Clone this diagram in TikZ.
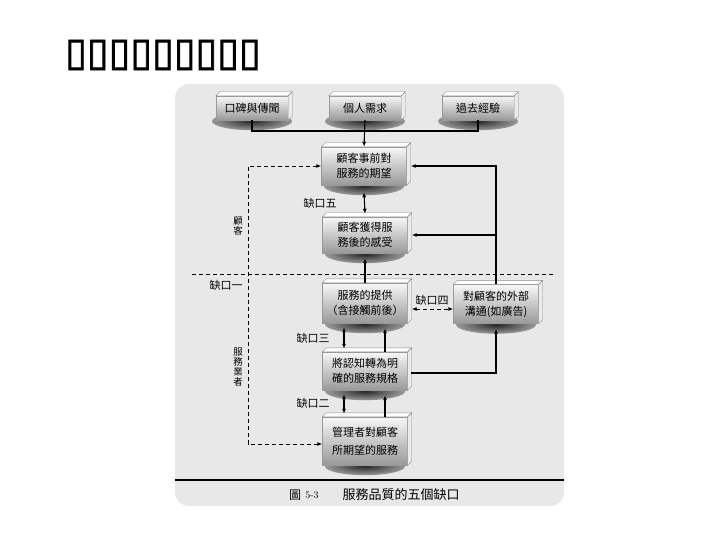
\documentclass[tikz,border=0pt]{standalone}
\usepackage{fontspec}
\newfontfamily\cjk{Noto Sans CJK TC}
\newfontface\dvb{DejaVu Sans}[RawFeature={embolden=2}]
\usetikzlibrary{arrows.meta}
\definecolor{panel}{gray}{0.91}
\definecolor{shadowc}{gray}{0.15}
\definecolor{shadowm}{gray}{0.55}
\pgfdeclareradialshading{boxshadow}{\pgfpoint{0bp}{0bp}}{color(0bp)=(shadowc); color(22bp)=(shadowm); color(50bp)=(panel)}
\pgfdeclarelayer{bg}
\pgfsetlayers{bg,main}
\newcommand\bevelbox[1]{%
  \fill[white,draw=black!45,line width=0.4pt] (#1.north west) -- ++(4,-4) -- ([shift={(4pt,4pt)}]#1.north east) -- (#1.north east) -- cycle;
  \fill[black!8,draw=black!45,line width=0.4pt] (#1.north east) -- ++(4,-4) -- ([shift={(4pt,4pt)}]#1.south east) -- (#1.south east) -- cycle;
  \begin{pgfonlayer}{bg}
  \shade[shading=boxshadow] ([yshift=-1pt]#1.south) ellipse [x radius=40pt, y radius=9pt];
  \end{pgfonlayer}}
\begin{document}
\begin{tikzpicture}[x=1pt,y=-1pt,
  sbox/.style={rectangle, draw=black!40, line width=0.4pt, top color=black!3, bottom color=black!40,
    minimum width=85pt, inner sep=1pt, font=\cjk\fontsize{11}{15}\selectfont, align=center},
  lbl/.style={font=\cjk\fontsize{11}{13}\selectfont, inner sep=0pt},
  vlbl/.style={font=\cjk\fontsize{9.5}{10}\selectfont, inner sep=0pt, align=center},
  arr/.style={line width=1.1pt, -{Latex[length=5pt,width=4pt]}},
  darr/.style={line width=1.1pt, {Latex[length=5pt,width=4pt]}-{Latex[length=5pt,width=4pt]}},
  dline/.style={line width=0.9pt, dash pattern=on 4pt off 3pt},
]
\useasboundingbox (0,0) rectangle (720,540);
\begin{pgfonlayer}{bg}
\fill[panel, rounded corners=14pt] (175,84) rectangle (564,506);
\end{pgfonlayer}

% title
\node[font=\dvb\fontsize{39.5}{40}\selectfont, anchor=west, inner sep=0pt] (title) at (65,55) {▯▯▯▯▯▯▯▯▯};

% boxes
\node[sbox, minimum width=72pt, minimum height=24pt] (t1) at (252,108) {口碑與傳聞};
\node[sbox, minimum width=72pt, minimum height=24pt] (t2) at (365,108) {個人需求};
\node[sbox, minimum width=72pt, minimum height=24pt] (t3) at (478,108) {過去經驗};
\node[sbox, minimum height=38pt] (n1) at (364,166) {顧客事前對\\服務的期望};
\node[sbox, minimum height=36pt] (n2) at (365,235) {顧客獲得服\\務後的感受};
\node[sbox, minimum height=40pt] (n3) at (365,303) {服務的提供\\（含接觸前後）};
\node[sbox, minimum height=39pt] (n4) at (496,304) {對顧客的外部\\溝通(如廣告)};
\node[sbox, minimum height=38pt] (n5) at (365,371) {將認知轉為明\\確的服務規格};
\node[sbox, minimum height=48pt, font=\cjk\fontsize{11}{18}\selectfont] (n6) at (365,441) {管理者對顧客\\所期望的服務};
\foreach \b in {t1,t2,t3,n1,n2,n3,n4,n5,n6} {\bevelbox{\b}}

% top merge
\coordinate (j) at (365,131);
\draw[line width=1.1pt] (t1.south) |- (j);
\draw[line width=1.1pt] (t3.south) |- (j);
\draw[arr] (t2.south) -- (n1.north);

% right feedback
\draw[arr] (n4.north) |- ([xshift=4pt]n1.east);
\draw[arr] (n4.north |- n2.east) -- ([xshift=4pt]n2.east);

% left dashed
\coordinate (lx) at (248,300);
\draw[dline, {Latex[length=5pt,width=4pt]}-{Latex[length=5pt,width=4pt]}] (n1.west) -| (lx) |- ([yshift=-3pt]n6.west);

% gaps
\draw[darr] ([yshift=-7pt]n1.south) -- ([yshift=3pt]n2.north);
\node[lbl] (g5) at (320,203) {缺口五};
\draw[arr] (n3.north) -- ([yshift=-5pt]n2.south);
\draw[dline] (192,274) -- (553,274);
\node[lbl] (g1) at (226,285) {缺口一};
\draw[dline, {Latex[length=5pt,width=4pt]}-{Latex[length=5pt,width=4pt]}] ([shift={(4pt,-6pt)}]n3.east) -- ([yshift=-5pt]n4.west);
\node[lbl] (g4) at (432,300) {缺口四};
\draw[darr] ([shift={(-21pt,-4pt)}]n3.south) -- ([shift={(-21pt,3pt)}]n5.north);
\node[lbl] (g3) at (313,338) {缺口三};
\draw[arr] ([xshift=20pt]n5.north) -- ([shift={(20pt,-5pt)}]n3.south);
\draw[arr] ([shift={(3pt,-2pt)}]n5.east) -| ([yshift=-5pt]n4.south);
\draw[darr] ([shift={(-21pt,-4pt)}]n5.south) -- ([shift={(-21pt,3pt)}]n6.north);
\node[lbl] (g2) at (313,403) {缺口二};
\draw[arr] ([xshift=20pt]n6.north) -- ([shift={(20pt,-5pt)}]n5.south);

% side labels
\node[vlbl] (vc) at (238,226) {顧\\客};
\node[vlbl] (vs) at (238,367) {服\\務\\業\\者};

% caption
\draw[line width=1.6pt] (175,480) -- (564,480);
\node[font=\cjk\fontsize{12}{12}\selectfont, inner sep=0pt] (cfig) at (295,495) {圖};
\node[font=\fontsize{10}{10}\selectfont, inner sep=0pt] (cnum) at (312,495) {5-3};
\node[font=\cjk\fontsize{13}{13}\selectfont, inner sep=0pt] (ctext) at (401,495) {服務品質的五個缺口};
\end{tikzpicture}
\end{document}
